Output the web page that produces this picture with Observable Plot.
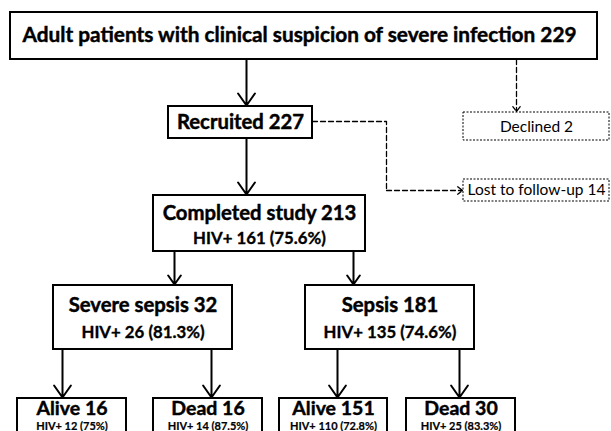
<!DOCTYPE html>
<html><head><meta charset="utf-8">
<script src="https://cdn.jsdelivr.net/npm/d3@7"></script>
<script src="https://cdn.jsdelivr.net/npm/@observablehq/plot@0.6"></script>
<style>html,body{margin:0;padding:0;background:#fff;overflow:hidden}</style>
</head><body><div id="chart"></div>
<script>
// ---- data ----
const stages = ["Adult patients with clinical suspicion of severe infection", "Recruited", "Completed study", "Severe sepsis", "Sepsis", "Alive", "Dead", "Alive", "Dead"];
const counts = [229, 227, 213, 32, 181, 16, 16, 151, 30];
const hivCounts = [null, null, 161, 26, 135, 12, 14, 110, 25];
const hivPercent = [null, null, "75.6%", "81.3%", "74.6%", "75%", "87.5%", "72.8%", "83.3%"];
const exclusions = ["Declined", "Lost to follow-up"];
const exclusionCounts = [2, 14];
// flow links: from stage index -> to stage index
const flowFrom = [0, 1, 2, 2, 3, 3, 4, 4];
const flowTo   = [1, 2, 3, 4, 5, 6, 7, 8];

// ---- layout (diagram geometry, chart units) ----
const boxLayout = [
  {x1: 10,  x2: 597, y1: 12,  y2: 59,  ty: 35,  sy: null, level: 0},
  {x1: 168, x2: 312, y1: 106, y2: 138, ty: 122, sy: null, level: 1},
  {x1: 153, x2: 365, y1: 195, y2: 251, ty: 213, sy: 238, level: 2},
  {x1: 53,  x2: 232, y1: 285, y2: 349, ty: 305, sy: 332, level: 2},
  {x1: 305, x2: 474, y1: 285, y2: 349, ty: 305, sy: 332, level: 2},
  {x1: 17,  x2: 126, y1: 398, y2: 445, ty: 408.5, sy: 426, level: 3},
  {x1: 153, x2: 262, y1: 398, y2: 445, ty: 408.5, sy: 426, level: 3},
  {x1: 279, x2: 387, y1: 398, y2: 445, ty: 408.5, sy: 426, level: 3},
  {x1: 406, x2: 515, y1: 398, y2: 445, ty: 408.5, sy: 426, level: 3}
];
const flowX = [246, 246, 174, 353, 62, 211, 337, 459];
const exclLayout = [
  {x1: 463, x2: 609, y1: 112, y2: 140, ty: 127},
  {x1: 463, x2: 609, y1: 179, y2: 201, ty: 190}
];
const exclPaths = [
  [[516, 59], [516, 111]],
  [[312, 121], [386, 121], [386, 190], [462, 190]]
];

// ---- build tables ----
const nodes = stages.map((s, i) => ({
  ...boxLayout[i],
  cx: (boxLayout[i].x1 + boxLayout[i].x2) / 2,
  title: `${s} ${counts[i]}`,
  sub: hivCounts[i] == null ? null : `HIV+ ${hivCounts[i]} (${hivPercent[i]})`
}));
nodes[0].cx = 299;
const subNodes = nodes.filter(d => d.sub);
const links = flowFrom.map((f, k) => ({
  x: flowX[k], y1: nodes[f].y2, y2: nodes[flowTo[k]].y1 - 1
}));
const excl = exclusions.map((e, i) => ({
  ...exclLayout[i], cx: 536, label: `${e} ${exclusionCounts[i]}`
}));
// dashed polylines: all segments but the last as lines, last segment as arrow
const exclPts = exclPaths.flatMap((p, i) => p.slice(0, -1).map(([x, y]) => ({x, y, path: i})));
const exclHeads = exclPaths.map(p => ({x1: p[p.length - 2][0], y1: p[p.length - 2][1], x2: p[p.length - 1][0], y2: p[p.length - 1][1]}));

const bold = {fontWeight: "bold", fill: "black", stroke: "black", strokeWidth: 0.45};

const chart = Plot.plot({
  width: 611, height: 431, margin: 0,
  x: {domain: [0, 611], range: [0, 611], axis: null},
  y: {domain: [0, 431], range: [0, 431], axis: null},
  style: {fontFamily: "Lato, 'Open Sans', sans-serif", background: "white", color: "black"},
  marks: [
    Plot.line(exclPts, {x: "x", y: "y", z: "path", stroke: "black", strokeWidth: 1.3, strokeDasharray: "5,3"}),
    Plot.arrow(exclHeads, {x1: "x1", y1: "y1", x2: "x2", y2: "y2", stroke: "black", strokeWidth: 1.3, strokeDasharray: "5,3", headLength: 7, headAngle: 75}),
    Plot.arrow(links, {x1: "x", x2: "x", y1: "y1", y2: "y2", stroke: "black", strokeWidth: 2, headLength: 11, headAngle: 70}),
    Plot.rect(nodes, {x1: "x1", x2: "x2", y1: "y1", y2: "y2", fill: "white", stroke: "black", strokeWidth: 2}),
    Plot.rect(excl, {x1: "x1", x2: "x2", y1: "y1", y2: "y2", fill: "white", stroke: "black", strokeWidth: 1, strokeDasharray: "2,1.5"}),
    Plot.text(excl, {x: "cx", y: "ty", text: "label", fontSize: 15.5, fill: "black"}),
    Plot.text(nodes.filter(d => d.level === 0), {x: "cx", y: "ty", text: "title", fontSize: 20.8, ...bold}),
    Plot.text(nodes.filter(d => d.level === 1 || d.level === 2), {x: "cx", y: "ty", text: "title", fontSize: 20.3, ...bold}),
    Plot.text(nodes.filter(d => d.level === 3), {x: "cx", y: "ty", text: "title", fontSize: 19.5, ...bold}),
    Plot.text(subNodes.filter(d => d.level < 3), {x: "cx", y: "sy", text: "sub", fontSize: 16.8, ...bold, strokeWidth: 0.35}),
    Plot.text(subNodes.filter(d => d.level === 3), {x: "cx", y: "sy", text: "sub", fontSize: 11, ...bold, strokeWidth: 0.2})
  ]
});
document.getElementById("chart").appendChild(chart);
</script>
</body></html>
